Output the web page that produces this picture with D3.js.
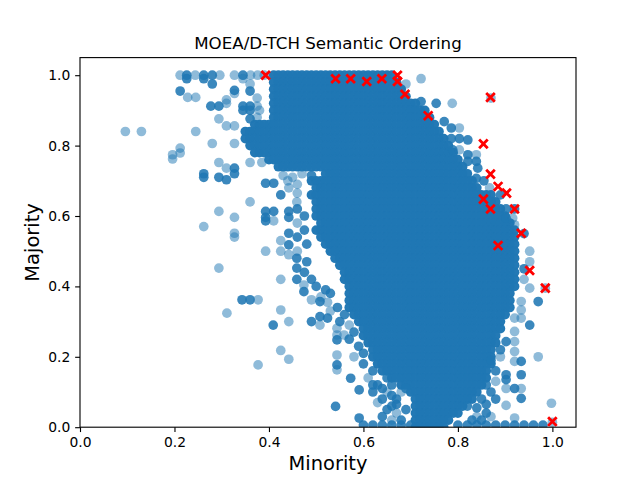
<!DOCTYPE html>
<html lang="en">
<head>
<meta charset="utf-8">
<title>MOEA/D-TCH Semantic Ordering</title>
<script src="https://cdn.jsdelivr.net/npm/d3@7"></script>
<style>
  body { margin: 0; background: #fff; }
  text { font-family: "DejaVu Sans", sans-serif; fill: #000; }
</style>
</head>
<body>
<script>
// dense core of the population, read row by row (values in hundredths)
const denseMajority = [100, 98, 96, 94, 92, 90, 88, 86, 84, 82, 80, 78, 76, 74, 72, 70, 68, 66, 64, 62,
  60, 58, 56, 54, 52, 50, 48, 46, 44, 42, 40, 38, 36, 34, 32, 30, 28, 26, 24, 22, 20, 18, 16, 14, 12,
  10, 8, 6, 4, 2, 0];
const denseMinority = [
  [41, 42, 43, 44, 45, 46, 47, 48, 49, 50, 51, 52, 53, 54, 55, 56, 57, 58, 59, 60, 61, 62, 63, 64, 65, 66],
  [41, 42, 43, 44, 45, 46, 47, 48, 49, 50, 51, 52, 53, 54, 55, 56, 57, 58, 59, 60, 61, 62, 63, 64, 65, 66, 67],
  [41, 42, 43, 44, 45, 46, 47, 48, 49, 50, 51, 52, 53, 54, 55, 56, 57, 58, 59, 60, 61, 62, 63, 64, 65, 66, 67, 68],
  [41, 42, 43, 44, 45, 46, 47, 48, 49, 50, 51, 52, 53, 54, 55, 56, 57, 58, 59, 60, 61, 62, 63, 64, 65, 66, 67, 68, 69],
  [41, 42, 43, 44, 45, 46, 47, 48, 49, 50, 51, 52, 53, 54, 55, 56, 57, 58, 59, 60, 61, 62, 63, 64, 65, 66, 67, 68, 69, 70, 71],
  [41, 42, 43, 44, 45, 46, 47, 48, 49, 50, 51, 52, 53, 54, 55, 56, 57, 58, 59, 60, 61, 62, 63, 64, 65, 66, 67, 68, 69, 70, 71, 72, 73],
  [41, 42, 43, 44, 45, 46, 47, 48, 49, 50, 51, 52, 53, 54, 55, 56, 57, 58, 59, 60, 61, 62, 63, 64, 65, 66, 67, 68, 69, 70, 71, 72, 73, 74],
  [37, 38, 39, 40, 41, 42, 43, 44, 45, 46, 47, 48, 49, 50, 51, 52, 53, 54, 55, 56, 57, 58, 59, 60, 61, 62, 63, 64, 65, 66, 67, 68, 69, 70, 71, 72, 73, 74, 75],
  [35, 36, 37, 38, 39, 40, 41, 42, 43, 44, 45, 46, 47, 48, 49, 50, 51, 52, 53, 54, 55, 56, 57, 58, 59, 60, 61, 62, 63, 64, 65, 66, 67, 68, 69, 70, 71, 72, 73, 74, 75, 76],
  [35, 36, 37, 38, 39, 40, 41, 42, 43, 44, 45, 46, 47, 48, 49, 50, 51, 52, 53, 54, 55, 56, 57, 58, 59, 60, 61, 62, 63, 64, 65, 66, 67, 68, 69, 70, 71, 72, 73, 74, 75, 76, 77],
  [36, 37, 38, 39, 40, 41, 42, 43, 44, 45, 46, 47, 48, 49, 50, 51, 52, 53, 54, 55, 56, 57, 58, 59, 60, 61, 62, 63, 64, 65, 66, 67, 68, 69, 70, 71, 72, 73, 74, 75, 76, 77, 78],
  [37, 38, 39, 40, 41, 42, 43, 44, 45, 46, 47, 48, 49, 50, 51, 52, 53, 54, 55, 56, 57, 58, 59, 60, 61, 62, 63, 64, 65, 66, 67, 68, 69, 70, 71, 72, 73, 74, 75, 76, 77, 78, 79],
  [40, 41, 42, 43, 44, 45, 46, 47, 48, 49, 50, 51, 52, 53, 54, 55, 56, 57, 58, 59, 60, 61, 62, 63, 64, 65, 66, 67, 68, 69, 70, 71, 72, 73, 74, 75, 76, 77, 78, 79, 80],
  [42, 43, 44, 45, 46, 47, 48, 49, 50, 51, 52, 53, 54, 55, 56, 57, 58, 59, 60, 61, 62, 63, 64, 65, 66, 67, 68, 69, 70, 71, 72, 73, 74, 75, 76, 77, 78, 79, 80, 81],
  [52, 53, 54, 55, 56, 57, 58, 59, 60, 61, 62, 63, 64, 65, 66, 67, 68, 69, 70, 71, 72, 73, 74, 75, 76, 77, 78, 79, 80, 81, 82],
  [49, 50, 51, 52, 53, 54, 55, 56, 57, 58, 59, 60, 61, 62, 63, 64, 65, 66, 67, 68, 69, 70, 71, 72, 73, 74, 75, 76, 77, 78, 79, 80, 81, 82, 83],
  [50, 51, 52, 53, 54, 55, 56, 57, 58, 59, 60, 61, 62, 63, 64, 65, 66, 67, 68, 69, 70, 71, 72, 73, 74, 75, 76, 77, 78, 79, 80, 81, 82, 83, 84],
  [49, 50, 51, 52, 53, 54, 55, 56, 57, 58, 59, 60, 61, 62, 63, 64, 65, 66, 67, 68, 69, 70, 71, 72, 73, 74, 75, 76, 77, 78, 79, 80, 81, 82, 83, 84, 85, 86, 87],
  [50, 51, 52, 53, 54, 55, 56, 57, 58, 59, 60, 61, 62, 63, 64, 65, 66, 67, 68, 69, 70, 71, 72, 73, 74, 75, 76, 77, 78, 79, 80, 81, 82, 83, 84, 85, 86, 87, 88],
  [50, 51, 52, 53, 54, 55, 56, 57, 58, 59, 60, 61, 62, 63, 64, 65, 66, 67, 68, 69, 70, 71, 72, 73, 74, 75, 76, 77, 78, 79, 80, 81, 82, 83, 84, 85, 86, 87, 88, 89],
  [50, 51, 52, 53, 54, 55, 56, 57, 58, 59, 60, 61, 62, 63, 64, 65, 66, 67, 68, 69, 70, 71, 72, 73, 74, 75, 76, 77, 78, 79, 80, 81, 82, 83, 84, 85, 86, 87, 88, 89, 90],
  [51, 52, 53, 54, 55, 56, 57, 58, 59, 60, 61, 62, 63, 64, 65, 66, 67, 68, 69, 70, 71, 72, 73, 74, 75, 76, 77, 78, 79, 80, 81, 82, 83, 84, 85, 86, 87, 88, 89, 90, 91],
  [50, 51, 52, 53, 54, 55, 56, 57, 58, 59, 60, 61, 62, 63, 64, 65, 66, 67, 68, 69, 70, 71, 72, 73, 74, 75, 76, 77, 78, 79, 80, 81, 82, 83, 84, 85, 86, 87, 88, 89, 90, 91, 92],
  [51, 52, 53, 54, 55, 56, 57, 58, 59, 60, 61, 62, 63, 64, 65, 66, 67, 68, 69, 70, 71, 72, 73, 74, 75, 76, 77, 78, 79, 80, 81, 82, 83, 84, 85, 86, 87, 88, 89, 90, 91, 92],
  [52, 53, 54, 55, 56, 57, 58, 59, 60, 61, 62, 63, 64, 65, 66, 67, 68, 69, 70, 71, 72, 73, 74, 75, 76, 77, 78, 79, 80, 81, 82, 83, 84, 85, 86, 87, 88, 89, 90, 91, 92],
  [53, 54, 55, 56, 57, 58, 59, 60, 61, 62, 63, 64, 65, 66, 67, 68, 69, 70, 71, 72, 73, 74, 75, 76, 77, 78, 79, 80, 81, 82, 83, 84, 85, 86, 87, 88, 89, 90, 91, 92],
  [54, 55, 56, 57, 58, 59, 60, 61, 62, 63, 64, 65, 66, 67, 68, 69, 70, 71, 72, 73, 74, 75, 76, 77, 78, 79, 80, 81, 82, 83, 84, 85, 86, 87, 88, 89, 90, 91, 92],
  [55, 56, 57, 58, 59, 60, 61, 62, 63, 64, 65, 66, 67, 68, 69, 70, 71, 72, 73, 74, 75, 76, 77, 78, 79, 80, 81, 82, 83, 84, 85, 86, 87, 88, 89, 90, 91, 92],
  [56, 57, 58, 59, 60, 61, 62, 63, 64, 65, 66, 67, 68, 69, 70, 71, 72, 73, 74, 75, 76, 77, 78, 79, 80, 81, 82, 83, 84, 85, 86, 87, 88, 89, 90, 91, 92],
  [56, 57, 58, 59, 60, 61, 62, 63, 64, 65, 66, 67, 68, 69, 70, 71, 72, 73, 74, 75, 76, 77, 78, 79, 80, 81, 82, 83, 84, 85, 86, 87, 88, 89, 90, 91, 92],
  [57, 58, 59, 60, 61, 62, 63, 64, 65, 66, 67, 68, 69, 70, 71, 72, 73, 74, 75, 76, 77, 78, 79, 80, 81, 82, 83, 84, 85, 86, 87, 88, 89, 90, 91, 92],
  [57, 58, 59, 60, 61, 62, 63, 64, 65, 66, 67, 68, 69, 70, 71, 72, 73, 74, 75, 76, 77, 78, 79, 80, 81, 82, 83, 84, 85, 86, 87, 88, 89, 90, 91],
  [57, 58, 59, 60, 61, 62, 63, 64, 65, 66, 67, 68, 69, 70, 71, 72, 73, 74, 75, 76, 77, 78, 79, 80, 81, 82, 83, 84, 85, 86, 87, 88, 89, 90, 91],
  [57, 58, 59, 60, 61, 62, 63, 64, 65, 66, 67, 68, 69, 70, 71, 72, 73, 74, 75, 76, 77, 78, 79, 80, 81, 82, 83, 84, 85, 86, 87, 88, 89, 90, 91],
  [58, 59, 60, 61, 62, 63, 64, 65, 66, 67, 68, 69, 70, 71, 72, 73, 74, 75, 76, 77, 78, 79, 80, 81, 82, 83, 84, 85, 86, 87, 88, 89, 90],
  [59, 60, 61, 62, 63, 64, 65, 66, 67, 68, 69, 70, 71, 72, 73, 74, 75, 76, 77, 78, 79, 80, 81, 82, 83, 84, 85, 86, 87, 88, 89],
  [60, 61, 62, 63, 64, 65, 66, 67, 68, 69, 70, 71, 72, 73, 74, 75, 76, 77, 78, 79, 80, 81, 82, 83, 84, 85, 86, 87, 88, 89],
  [60, 61, 62, 63, 64, 65, 66, 67, 68, 69, 70, 71, 72, 73, 74, 75, 76, 77, 78, 79, 80, 81, 82, 83, 84, 85, 86, 87, 88],
  [61, 62, 63, 64, 65, 66, 67, 68, 69, 70, 71, 72, 73, 74, 75, 76, 77, 78, 79, 80, 81, 82, 83, 84, 85, 86, 87, 88],
  [62, 63, 64, 65, 66, 67, 68, 69, 70, 71, 72, 73, 74, 75, 76, 77, 78, 79, 80, 81, 82, 83, 84, 85, 86, 87],
  [62, 63, 64, 65, 66, 67, 68, 69, 70, 71, 72, 73, 74, 75, 76, 77, 78, 79, 80, 81, 82, 83, 84, 85, 86, 87],
  [63, 64, 65, 66, 67, 68, 69, 70, 71, 72, 73, 74, 75, 76, 77, 78, 79, 80, 81, 82, 83, 84, 85, 86, 87],
  [64, 65, 66, 67, 68, 69, 70, 71, 72, 73, 74, 75, 76, 77, 78, 79, 80, 81, 82, 83, 84, 85, 86],
  [66, 67, 68, 69, 70, 71, 72, 73, 74, 75, 76, 77, 78, 79, 80, 81, 82, 83, 84, 85, 86],
  [68, 69, 70, 71, 72, 73, 74, 75, 76, 77, 78, 79, 80, 81, 82, 83, 84, 85],
  [70, 71, 72, 73, 74, 75, 76, 77, 78, 79, 80, 81, 82, 83, 84],
  [71, 72, 73, 74, 75, 76, 77, 78, 79, 80, 81, 82, 83],
  [71, 72, 73, 74, 75, 76, 77, 78, 79, 80, 81],
  [71, 72, 73, 74, 75, 76, 77, 78, 79, 80],
  [71, 72, 73, 74, 75, 76, 77, 78],
  [71, 72, 73, 74, 75, 76, 77]
];
const denseStack = 6; // solutions piled on each spot of the core

// scattered solutions: [minority, majority, solutions on that spot]
const scattered = [
  [0.212, 1.0, 1], [0.226, 1.0, 3], [0.244, 1.0, 1], [0.262, 1.0, 3], [0.28, 1.0, 3], [0.296, 1.0, 1],
  [0.327, 1.0, 1], [0.345, 1.0, 3], [0.361, 1.0, 1], [0.376, 1.0, 1], [0.39, 1.0, 1],
  [0.226, 0.99, 3], [0.262, 0.99, 3], [0.345, 0.99, 1], [0.28, 0.975, 3], [0.36, 0.975, 1],
  [0.212, 0.955, 3], [0.327, 0.957, 3], [0.36, 0.955, 3], [0.327, 0.948, 1],
  [0.228, 0.937, 1], [0.245, 0.937, 1], [0.375, 0.935, 1], [0.31, 0.93, 1], [0.31, 0.92, 1],
  [0.277, 0.912, 3], [0.294, 0.912, 3], [0.345, 0.912, 3], [0.36, 0.912, 3], [0.375, 0.912, 1],
  [0.345, 0.9, 3], [0.36, 0.9, 3], [0.38, 0.9, 1],
  [0.294, 0.876, 1], [0.36, 0.876, 3], [0.375, 0.88, 1], [0.31, 0.856, 1], [0.327, 0.856, 1],
  [0.096, 0.84, 1], [0.13, 0.84, 1], [0.245, 0.84, 1],
  [0.28, 0.806, 1], [0.327, 0.806, 1], [0.212, 0.793, 1], [0.196, 0.774, 1], [0.212, 0.779, 1], [0.196, 0.762, 1],
  [0.294, 0.752, 1], [0.36, 0.752, 1], [0.385, 0.752, 1],
  [0.31, 0.736, 1], [0.327, 0.736, 3], [0.262, 0.72, 3], [0.262, 0.71, 3], [0.327, 0.72, 3],
  [0.294, 0.71, 3], [0.31, 0.703, 3],
  [0.43, 0.715, 1], [0.45, 0.71, 1], [0.47, 0.72, 1], [0.49, 0.715, 3], [0.44, 0.70, 1],
  [0.393, 0.693, 3], [0.41, 0.693, 3], [0.442, 0.68, 1], [0.46, 0.69, 1], [0.425, 0.66, 3], [0.46, 0.665, 1],
  [0.36, 0.64, 1], [0.459, 0.64, 1],
  [0.294, 0.613, 1], [0.393, 0.613, 3], [0.41, 0.613, 3], [0.442, 0.613, 3], [0.46, 0.62, 3],
  [0.327, 0.596, 1], [0.393, 0.596, 3], [0.442, 0.596, 3], [0.475, 0.6, 3], [0.393, 0.586, 3],
  [0.41, 0.586, 1], [0.46, 0.58, 1],
  [0.262, 0.57, 1], [0.327, 0.551, 1], [0.327, 0.54, 1], [0.442, 0.551, 3], [0.475, 0.56, 3], [0.46, 0.54, 3],
  [0.442, 0.518, 3], [0.425, 0.53, 1], [0.48, 0.52, 3],
  [0.393, 0.5, 1], [0.425, 0.5, 1], [0.46, 0.50, 1], [0.442, 0.49, 1], [0.459, 0.48, 3], [0.48, 0.47, 3],
  [0.294, 0.452, 1], [0.459, 0.452, 3], [0.475, 0.44, 3], [0.425, 0.42, 1], [0.459, 0.42, 3], [0.49, 0.42, 3],
  [0.474, 0.404, 1], [0.5, 0.40, 3], [0.474, 0.385, 3], [0.52, 0.39, 3], [0.51, 0.37, 1], [0.53, 0.38, 3],
  [0.343, 0.362, 3], [0.36, 0.362, 3], [0.377, 0.362, 1], [0.49, 0.362, 1], [0.508, 0.357, 3], [0.524, 0.355, 1],
  [0.545, 0.34, 3], [0.425, 0.333, 1], [0.53, 0.33, 1], [0.311, 0.324, 1], [0.508, 0.314, 3],
  [0.524, 0.31, 3], [0.56, 0.32, 3],
  [0.49, 0.3, 3], [0.442, 0.3, 1], [0.55, 0.30, 3], [0.409, 0.29, 3], [0.508, 0.29, 1], [0.57, 0.29, 1],
  [0.544, 0.281, 1], [0.58, 0.27, 3], [0.544, 0.262, 1], [0.559, 0.262, 1], [0.57, 0.25, 3],
  [0.544, 0.248, 3], [0.59, 0.23, 3],
  [0.425, 0.218, 1], [0.60, 0.21, 3], [0.544, 0.205, 1], [0.58, 0.20, 1], [0.442, 0.193, 1], [0.60, 0.18, 3],
  [0.377, 0.177, 1], [0.544, 0.177, 3], [0.544, 0.163, 1], [0.62, 0.16, 3], [0.61, 0.14, 1], [0.573, 0.139, 3],
  [0.63, 0.12, 3], [0.591, 0.106, 3], [0.62, 0.10, 3], [0.65, 0.10, 1], [0.64, 0.08, 3],
  [0.66, 0.12, 3], [0.67, 0.08, 3], [0.68, 0.10, 1], [0.65, 0.14, 3],
  [0.62, 0.12, 3], [0.64, 0.11, 3], [0.66, 0.09, 3], [0.63, 0.07, 1], [0.65, 0.05, 3], [0.67, 0.065, 3],
  [0.68, 0.02, 3], [0.69, 0.11, 3],
  [0.541, 0.059, 3], [0.66, 0.06, 3], [0.69, 0.05, 3], [0.67, 0.04, 1], [0.64, 0.03, 3], [0.591, 0.026, 3],
  [0.66, 0.02, 1], [0.86, 0.04, 3], [0.84, 0.03, 1], [0.85, 0.08, 3], [0.87, 0.10, 3], [0.88, 0.13, 1],
  [0.82, 0.06, 3], [0.84, 0.055, 3], [0.86, 0.065, 3], [0.83, 0.02, 3], [0.85, 0.02, 3], [0.87, 0.03, 1],
  [0.88, 0.08, 3], [0.86, 0.12, 3], [0.88, 0.16, 3], [0.87, 0.19, 3], [0.89, 0.20, 1], [0.89, 0.22, 3],
  [0.60, 0.006, 3], [0.62, 0.006, 3], [0.64, 0.006, 3], [0.66, 0.006, 3], [0.68, 0.006, 3], [0.70, 0.006, 3],
  [0.80, 0.006, 3], [0.82, 0.006, 3], [0.84, 0.006, 3], [0.86, 0.006, 3], [0.88, 0.006, 3], [0.90, 0.006, 3],
  [0.92, 0.006, 3], [0.94, 0.006, 3], [0.96, 0.006, 3], [0.98, 0.006, 3],
  [0.722, 0.99, 1], [0.69, 0.975, 1], [0.722, 0.925, 3], [0.754, 0.92, 3], [0.788, 0.92, 1],
  [0.771, 0.868, 3], [0.786, 0.85, 3], [0.803, 0.85, 1], [0.786, 0.82, 3], [0.803, 0.82, 3], [0.821, 0.816, 3],
  [0.789, 0.788, 3], [0.803, 0.788, 1], [0.821, 0.774, 3], [0.839, 0.774, 1], [0.821, 0.755, 3],
  [0.839, 0.755, 3], [0.842, 0.736, 3], [0.839, 0.707, 3], [0.855, 0.70, 3], [0.867, 0.68, 1],
  [0.87, 0.641, 3], [0.89, 0.66, 3], [0.902, 0.62, 3], [0.92, 0.62, 3], [0.902, 0.594, 3], [0.916, 0.594, 1],
  [0.92, 0.575, 1], [0.94, 0.55, 3], [0.952, 0.5, 1], [0.952, 0.47, 1], [0.94, 0.45, 3], [0.94, 0.42, 1],
  [0.952, 0.395, 1], [0.934, 0.357, 1], [0.97, 0.357, 3], [0.934, 0.333, 1], [0.92, 0.31, 1], [0.934, 0.31, 1],
  [0.952, 0.29, 3], [0.92, 0.272, 1], [0.92, 0.243, 1], [0.902, 0.243, 3], [0.92, 0.215, 1], [0.97, 0.2, 1],
  [0.934, 0.187, 3], [0.92, 0.187, 1], [0.934, 0.149, 3], [0.902, 0.149, 3], [0.902, 0.135, 3],
  [0.902, 0.11, 1], [0.92, 0.11, 3], [0.934, 0.11, 1], [0.934, 0.082, 3], [0.998, 0.068, 1], [0.902, 0.062, 1],
  [0.92, 0.026, 1], [0.87, 0.935, 1], [0.985, 0.395, 1], [1.0, 0.014, 1]
];

// non-dominated solutions (red crosses)
const frontMinority = [0.393, 0.541, 0.573, 0.607, 0.639, 0.672, 0.672, 0.688, 0.737, 0.869, 0.854,
  0.869, 0.885, 0.903, 0.92, 0.854, 0.869, 0.934, 0.885, 0.952, 0.985, 1.0];
const frontMajority = [1.0, 0.99, 0.99, 0.982, 0.99, 1.0, 0.982, 0.946, 0.885, 0.937, 0.805,
  0.719, 0.684, 0.665, 0.62, 0.648, 0.62, 0.551, 0.516, 0.445, 0.395, 0.016];

const xTicks = [0.0, 0.2, 0.4, 0.6, 0.8, 1.0];
const yTicks = [0.0, 0.2, 0.4, 0.6, 0.8, 1.0];

const W = 640, H = 480;
const plotLeft = 80, plotRight = 576, plotTop = 57.6, plotBottom = 427.2;
const pt = 100 / 72;

const svg = d3.select("body").append("svg")
  .attr("width", W).attr("height", H)
  .style("display", "block");

const x = d3.scaleLinear().domain([0, 1.05]).range([plotLeft, plotRight]);
const y = d3.scaleLinear().domain([0, 1.05]).range([plotBottom, plotTop]);

svg.append("clipPath").attr("id", "plotArea")
  .append("rect")
  .attr("x", plotLeft).attr("y", plotTop)
  .attr("width", plotRight - plotLeft).attr("height", plotBottom - plotTop);

const marks = svg.append("g").attr("clip-path", "url(#plotArea)");
const blue = "#1f77b4";
const r = 4.85;
// n points at alpha 0.5 stacked on one spot
const stackOpacity = n => 1 - Math.pow(0.5, n);

// flatten the dense rows into points
const densePoints = [];
denseMajority.forEach((m, i) => {
  denseMinority[i].forEach(v => densePoints.push([v / 100, m / 100, denseStack]));
});

marks.selectAll("circle.dense")
  .data(densePoints)
  .enter()
  .append("circle")
  .attr("class", "dense")
  .attr("cx", d => x(d[0]))
  .attr("cy", d => y(d[1]))
  .attr("r", r)
  .attr("fill", blue)
  .attr("fill-opacity", d => stackOpacity(d[2]));

marks.selectAll("circle.sparse")
  .data(scattered)
  .enter()
  .append("circle")
  .attr("class", "sparse")
  .attr("cx", d => x(d[0]))
  .attr("cy", d => y(d[1]))
  .attr("r", r)
  .attr("fill", blue)
  .attr("fill-opacity", d => stackOpacity(d[2]));

// red crosses on top
const cross = 4.3;
marks.selectAll("path.front")
  .data(frontMinority.map((v, i) => [v, frontMajority[i]]))
  .enter()
  .append("path")
  .attr("class", "front")
  .attr("d", d => {
    const cx = x(d[0]), cy = y(d[1]);
    return `M${cx - cross},${cy - cross}L${cx + cross},${cy + cross}M${cx - cross},${cy + cross}L${cx + cross},${cy - cross}`;
  })
  .attr("stroke", "red")
  .attr("stroke-width", 2.8)
  .attr("fill", "none");

// axes
const fmt = d3.format(".1f");
const xAxis = svg.append("g")
  .attr("transform", `translate(0,${plotBottom})`)
  .call(d3.axisBottom(x).tickValues(xTicks).tickFormat(fmt).tickSize(3.5 * pt).tickPadding(3.5 * pt));
const yAxis = svg.append("g")
  .attr("transform", `translate(${plotLeft},0)`)
  .call(d3.axisLeft(y).tickValues(yTicks).tickFormat(fmt).tickSize(3.5 * pt).tickPadding(3.5 * pt));

[xAxis, yAxis].forEach(g => {
  g.select(".domain").remove();
  g.selectAll(".tick line").attr("stroke", "#000").attr("stroke-width", 0.8 * pt);
  g.selectAll(".tick text")
    .attr("font-family", "DejaVu Sans")
    .attr("font-size", 10 * pt)
    .attr("fill", "#000");
});
xAxis.selectAll(".tick text").attr("dy", "0.76em");

svg.append("rect")
  .attr("x", plotLeft).attr("y", plotTop)
  .attr("width", plotRight - plotLeft).attr("height", plotBottom - plotTop)
  .attr("fill", "none")
  .attr("stroke", "#000")
  .attr("stroke-width", 0.8 * pt);

svg.append("text")
  .attr("x", (plotLeft + plotRight) / 2)
  .attr("y", 49.3)
  .attr("text-anchor", "middle")
  .attr("font-size", 12 * pt)
  .text("MOEA/D-TCH Semantic Ordering");

svg.append("text")
  .attr("x", (plotLeft + plotRight) / 2)
  .attr("y", 470)
  .attr("text-anchor", "middle")
  .attr("font-size", 14 * pt)
  .text("Minority");

svg.append("text")
  .attr("transform", `translate(39,${(plotTop + plotBottom) / 2}) rotate(-90)`)
  .attr("text-anchor", "middle")
  .attr("font-size", 14 * pt)
  .text("Majority");
</script>
</body>
</html>
